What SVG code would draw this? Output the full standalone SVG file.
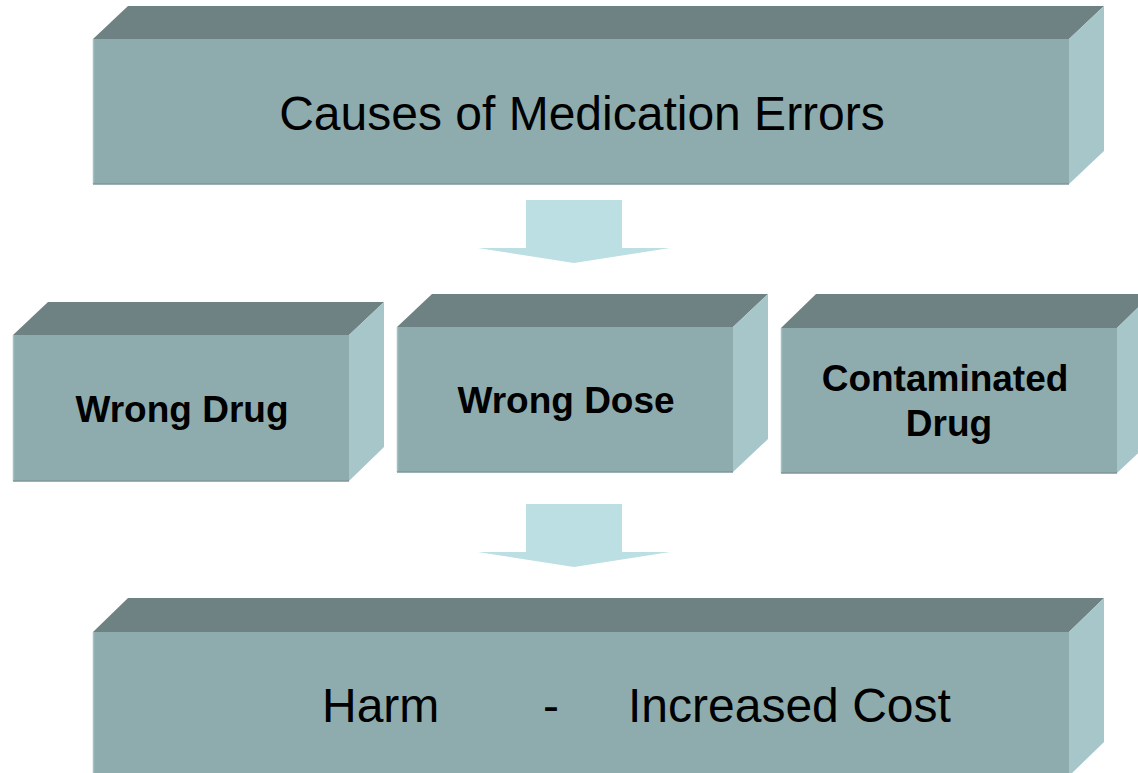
<svg xmlns="http://www.w3.org/2000/svg" width="1138" height="773" viewBox="0 0 1138 773">
<style>
.front{fill:#8EACAE}
.top{fill:#6E8284}
.side{fill:#A7C6C9}
.arrow{fill:#BBDFE2}
.big{font-family:"Liberation Sans",Arial,sans-serif;font-size:48px;fill:#000}
.bold{font-family:"Liberation Sans",Arial,sans-serif;font-size:37px;font-weight:bold;fill:#000}
</style>
<rect width="1138" height="773" fill="#fff"/>
<g id="causes">
<polygon class="top" points="93,39 128,6 1104,6 1069,39"/>
<polygon class="side" points="1069,39 1104,6 1104,151 1069,184"/>
<rect class="front" x="93" y="39" width="976" height="145"/>
<line x1="93.5" y1="39" x2="93.5" y2="184" stroke="#A3C0C2" stroke-width="1.5"/>
<line x1="93" y1="184" x2="1069" y2="184" stroke="#7E9799" stroke-width="1.5"/>
<text class="big" x="582" y="130" text-anchor="middle">Causes of Medication Errors</text>
</g>
<g id="wrong-drug">
<polygon class="top" points="13,335 48,302 384,302 349,335"/>
<polygon class="side" points="349,335 384,302 384,447 349,481"/>
<rect class="front" x="13" y="335" width="336" height="146"/>
<line x1="13.5" y1="335" x2="13.5" y2="481" stroke="#A3C0C2" stroke-width="1.5"/>
<line x1="13" y1="481" x2="349" y2="481" stroke="#7E9799" stroke-width="1.5"/>
<text class="bold" x="182" y="422" text-anchor="middle">Wrong Drug</text>
</g>
<g id="wrong-dose">
<polygon class="top" points="397,327 432,294 768,294 733,327"/>
<polygon class="side" points="733,327 768,294 768,439 733,472"/>
<rect class="front" x="397" y="327" width="336" height="145"/>
<line x1="397.5" y1="327" x2="397.5" y2="472" stroke="#A3C0C2" stroke-width="1.5"/>
<line x1="397" y1="472" x2="733" y2="472" stroke="#7E9799" stroke-width="1.5"/>
<text class="bold" x="566" y="413" text-anchor="middle">Wrong Dose</text>
</g>
<g id="contaminated-drug">
<polygon class="top" points="781,328 816,294 1152,294 1117,328"/>
<polygon class="side" points="1117,328 1152,294 1152,440 1117,473"/>
<rect class="front" x="781" y="328" width="336" height="145"/>
<line x1="781.5" y1="328" x2="781.5" y2="473" stroke="#A3C0C2" stroke-width="1.5"/>
<line x1="781" y1="473" x2="1117" y2="473" stroke="#7E9799" stroke-width="1.5"/>
<text class="bold" x="945" y="391" text-anchor="middle">Contaminated</text>
<text class="bold" x="949" y="436" text-anchor="middle">Drug</text>
</g>
<g id="harm-cost">
<polygon class="top" points="93,632 128,598 1104,598 1069,632"/>
<polygon class="side" points="1069,632 1104,598 1104,742 1069,776"/>
<rect class="front" x="93" y="632" width="976" height="145"/>
<line x1="93.5" y1="632" x2="93.5" y2="777" stroke="#A3C0C2" stroke-width="1.5"/>
<text class="big" y="722"><tspan x="322">Harm</tspan><tspan x="543">-</tspan><tspan x="628">Increased Cost</tspan></text>
</g>
<g id="connectors">
<polygon class="arrow" points="526,200 622,200 622,248 670,248 574,263 478,248 526,248"/>
<polygon class="arrow" points="526,504 622,504 622,552 670,552 574,567 478,552 526,552"/>
</g>
</svg>
